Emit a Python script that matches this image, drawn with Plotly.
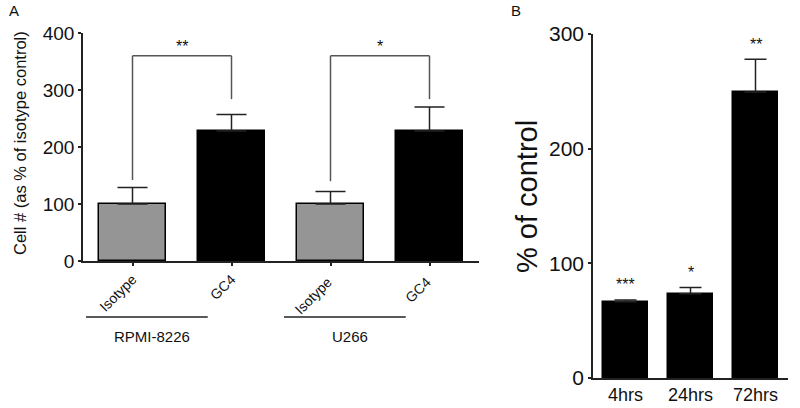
import plotly.graph_objects as go

# Panel A data
a_cats = ["Isotype", "GC4", "Isotype ", "GC4 "]
a_vals = [100, 228, 100, 228]
a_err = [29, 29, 22, 42]
a_colors = ["#959595", "#000000", "#959595", "#000000"]
a_groups = ["RPMI-8226", "U266"]
a_sig = ["**", "*"]

# Panel B data
b_cats = ["4hrs", "24hrs", "72hrs"]
b_vals = [66.5, 73.5, 249.5]
b_err = [1.5, 5.5, 28.5]
b_sig = ["***", "*", "**"]

W, H = 800, 408
FONT = "Liberation Sans, Arial, sans-serif"

fig = go.Figure()
fig.add_trace(go.Bar(
    x=a_cats, y=a_vals, xaxis="x", yaxis="y", width=0.667,
    marker=dict(color=a_colors, line=dict(color="black", width=1.5)),
    error_y=dict(type="data", array=a_err, arrayminus=[0]*4, symmetric=False,
                 color="#222", thickness=1.5, width=15),
    showlegend=False))
fig.add_trace(go.Bar(
    x=b_cats, y=b_vals, xaxis="x2", yaxis="y2", width=0.69,
    marker=dict(color="black", line=dict(color="black", width=1.5)),
    error_y=dict(type="data", array=b_err, arrayminus=[0]*3, symmetric=False,
                 color="#222", thickness=1.5, width=11),
    showlegend=False))

axis_common = dict(showline=True, linecolor="#222", linewidth=1.5, showgrid=False,
                   zeroline=False, ticks="outside", tickcolor="#222", ticklen=3, tickwidth=1.5,
                   automargin=False)

fig.update_layout(
    template="none",
    width=W, height=H, margin=dict(l=0, r=0, t=0, b=0, pad=0), autosize=False,
    paper_bgcolor="white", plot_bgcolor="white", bargap=0,
    font=dict(family=FONT, color="#111"),
    xaxis=dict(domain=[83/W, 479/W], anchor="y", range=[-0.5, 3.5], tickangle=-45,
               tickfont=dict(size=14), **axis_common),
    yaxis=dict(domain=[(H-261)/H, (H-33)/H], anchor="x", range=[0, 400],
               tickvals=[0, 100, 200, 300, 400], tickfont=dict(size=19), **axis_common),
    xaxis2=dict(domain=[593/W, 788/W], anchor="y2", range=[-0.5, 2.5],
                tickfont=dict(size=18), **{**axis_common, "ticks": ""}),
    yaxis2=dict(domain=[(H-378)/H, (H-34)/H], anchor="x2", range=[0, 300],
                tickvals=[0, 100, 200, 300], tickfont=dict(size=21), **axis_common),
)

shapes = []
ann = []
bracket_top = 360
for gi in range(2):
    l, r = 2*gi, 2*gi + 1
    lbot = a_vals[l] + a_err[l] + (13 if gi == 0 else 18)
    rbot = a_vals[r] + a_err[r] + (27 if gi == 0 else 14)
    for (x0, y0, x1, y1) in [(l, lbot, l, bracket_top), (l, bracket_top, r, bracket_top),
                             (r, bracket_top, r, rbot)]:
        shapes.append(dict(type="line", xref="x", yref="y", x0=x0, y0=y0, x1=x1, y1=y1,
                           line=dict(color="#555", width=1.5)))
    ann.append(dict(x=(l + r)/2, y=bracket_top - 2, xref="x", yref="y", text=a_sig[gi],
                    showarrow=False, font=dict(size=16), yanchor="bottom"))
    # group underline
    shapes.append(dict(type="line", xref="x", yref="paper", x0=l - 0.47, x1=r - 0.24,
                       y0=(H-317)/H, y1=(H-317)/H, line=dict(color="#222", width=1.5)))
    ann.append(dict(x=l + 0.2, y=(H-336)/H, xref="x", yref="paper", text=a_groups[gi],
                    showarrow=False, font=dict(size=15), yanchor="middle"))

for i, s in enumerate(b_sig):
    ann.append(dict(x=b_cats[i], y=b_vals[i] + b_err[i] + 4, xref="x2", yref="y2", text=s,
                    showarrow=False, font=dict(size=16), yanchor="bottom"))

ann += [
    dict(x=20/W, y=(H-143)/H, xref="paper", yref="paper", text="Cell # (as % of isotype control)",
         textangle=-90, showarrow=False, font=dict(size=16.5), xanchor="center", yanchor="middle"),
    dict(x=527/W, y=(H-197)/H, xref="paper", yref="paper", text="% of control",
         textangle=-90, showarrow=False, font=dict(size=29), xanchor="center", yanchor="middle"),
    dict(x=14/W, y=(H-10)/H, xref="paper", yref="paper", text="A", showarrow=False,
         font=dict(size=15), xanchor="center", yanchor="middle"),
    dict(x=516/W, y=(H-10)/H, xref="paper", yref="paper", text="B", showarrow=False,
         font=dict(size=15), xanchor="center", yanchor="middle"),
]
fig.update_layout(shapes=shapes, annotations=ann)
fig.write_html("out.html", config={"displayModeBar": False},
               post_script="document.body.style.margin='0px';document.body.style.overflow='hidden';")
